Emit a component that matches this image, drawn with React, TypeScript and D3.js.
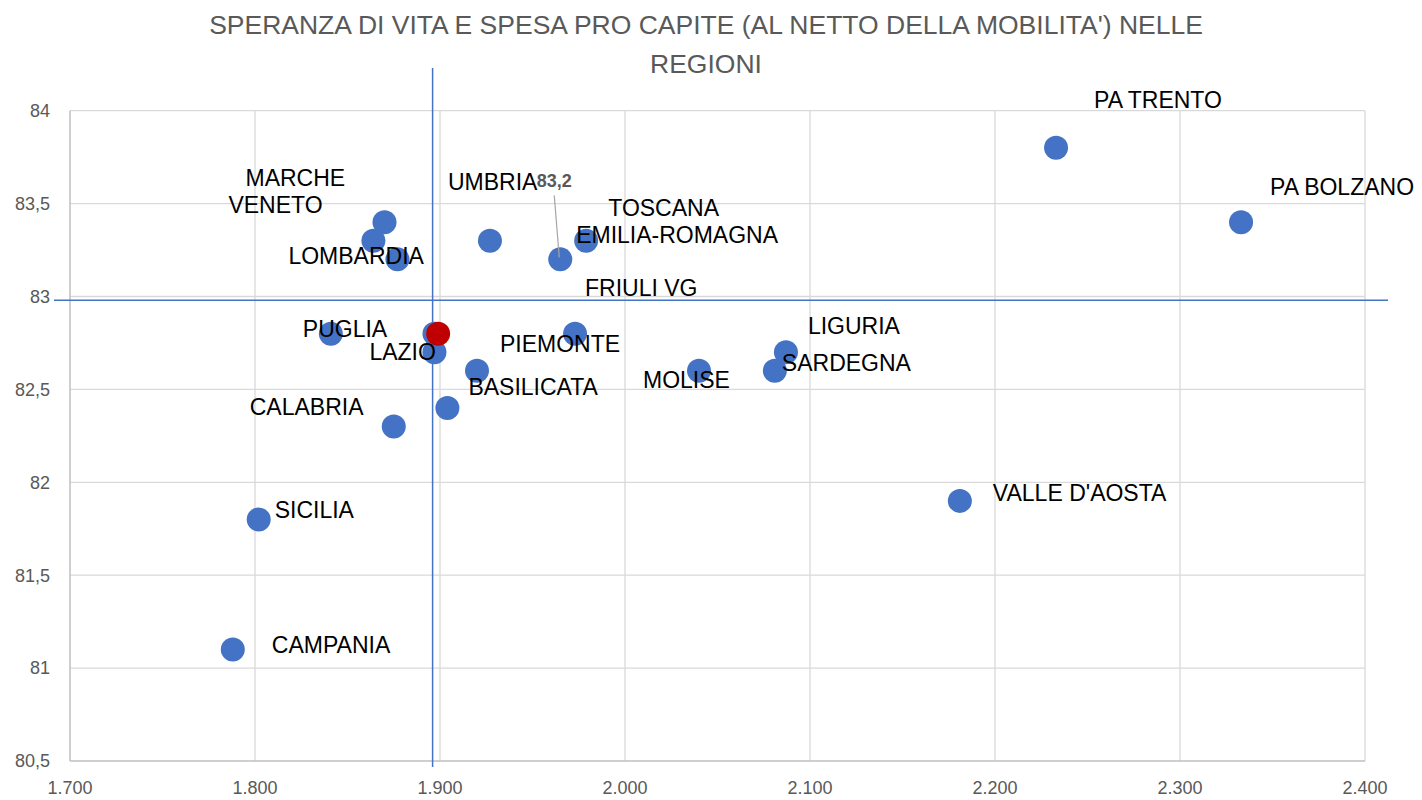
import React from 'react';
import * as d3 from 'd3';

// spesa pro capite (x), speranza di vita (y)
const regions = ['PA TRENTO', 'PA BOLZANO', 'MARCHE', 'VENETO', 'LOMBARDIA', 'UMBRIA', 'TOSCANA', 'EMILIA-ROMAGNA',
  'PUGLIA', 'ABRUZZO', 'LAZIO', 'FRIULI VG', 'PIEMONTE', 'BASILICATA', 'CALABRIA', 'MOLISE', 'SARDEGNA', 'LIGURIA',
  "VALLE D'AOSTA", 'SICILIA', 'CAMPANIA'];
const spesa = [2233, 2333, 1870, 1864, 1877, 1927, 1965, 1979,
  1841, 1897, 1897, 1973, 1920, 1904, 1875, 2040, 2081, 2087,
  2181, 1802, 1788];
const speranza = [83.8, 83.4, 83.4, 83.3, 83.2, 83.3, 83.2, 83.3,
  82.8, 82.8, 82.7, 82.8, 82.6, 82.4, 82.3, 82.6, 82.6, 82.7,
  81.9, 81.8, 81.1];
const hidden = ['ABRUZZO'];

const italia = { spesa: 1899, speranza: 82.8 };
const mediaSpesa = 1896;
const mediaSperanza = 82.98;

const xTicks = [1700, 1800, 1900, 2000, 2100, 2200, 2300, 2400];
const yTicks = [80.5, 81, 81.5, 82, 82.5, 83, 83.5, 84];

// label placement (pixels from the point), as moved by hand in the original
const labelOffsets: Record<string, [number, number]> = {
  'PA TRENTO': [38, -48], 'PA BOLZANO': [29, -35], 'MARCHE': [-139, -44], 'VENETO': [-145, -36],
  'LOMBARDIA': [-109, -3], 'UMBRIA': [-42, -59], 'TOSCANA': [48, -51], 'EMILIA-ROMAGNA': [-10, -6],
  'PUGLIA': [-28, -5], 'LAZIO': [-65, 0], 'FRIULI VG': [10, -46], 'PIEMONTE': [23, -27],
  'BASILICATA': [21, -21], 'CALABRIA': [-144, -20], 'MOLISE': [-56, 9], 'SARDEGNA': [7, -8],
  'LIGURIA': [22, -26], "VALLE D'AOSTA": [33, -8], 'SICILIA': [16, -10], 'CAMPANIA': [39, -5],
};

const fmtX = (v: number) => d3.format(',.0f')(v).replace(',', '.');
const fmtY = (v: number) => String(v).replace('.', ',');

export default function App() {
  const width = 1422;
  const height = 800;
  const margin = { top: 110.7, right: 57, bottom: 39, left: 70 };

  const x = d3.scaleLinear().domain([1700, 2400]).range([margin.left, width - margin.right]);
  const y = d3.scaleLinear().domain([80.5, 84]).range([height - margin.bottom, margin.top]);

  const grey = '#595959';
  const blue = '#4472C4';
  const font = "'Liberation Sans', Arial, sans-serif";

  const points = regions.map((r, i) => ({ name: r, sx: spesa[i], sy: speranza[i] }));
  const toscana = points.find(p => p.name === 'TOSCANA')!;

  return (
    <svg width={width} height={height} style={{ position: 'absolute', left: 0, top: 0, background: '#fff' }} fontFamily={font}>
      <text x={706} y={34} textAnchor="middle" fontSize={26.5} fill={grey}>
        SPERANZA DI VITA E SPESA PRO CAPITE (AL NETTO DELLA MOBILITA') NELLE
      </text>
      <text x={706} y={73} textAnchor="middle" fontSize={26.5} fill={grey}>REGIONI</text>

      {/* grid */}
      {xTicks.slice(1).map(t => (
        <line key={'gx' + t} x1={x(t)} x2={x(t)} y1={y(84)} y2={y(80.5)} stroke="#D9D9D9" strokeWidth={1.3} />
      ))}
      {yTicks.slice(1).map(t => (
        <line key={'gy' + t} x1={x(1700)} x2={x(2400)} y1={y(t)} y2={y(t)} stroke="#D9D9D9" strokeWidth={1.3} />
      ))}
      {/* axes */}
      <line x1={x(1700)} x2={x(1700)} y1={y(84)} y2={y(80.5)} stroke="#BFBFBF" strokeWidth={1.5} />
      <line x1={x(1700)} x2={x(2400)} y1={y(80.5)} y2={y(80.5)} stroke="#BFBFBF" strokeWidth={1.5} />

      {xTicks.map(t => (
        <text key={'tx' + t} x={x(t)} y={y(80.5) + 33} textAnchor="middle" fontSize={18} fill={grey}>{fmtX(t)}</text>
      ))}
      {yTicks.map(t => (
        <text key={'ty' + t} x={x(1700) - 20} y={y(t)} dy="0.35em" textAnchor="end" fontSize={18} fill={grey}>{fmtY(t)}</text>
      ))}

      {/* medie */}
      <line x1={x(mediaSpesa)} x2={x(mediaSpesa)} y1={68} y2={y(80.5) + 6} stroke={blue} strokeWidth={1.5} />
      <line x1={x(1700) - 16} x2={x(2400) + 23} y1={y(mediaSperanza)} y2={y(mediaSperanza)} stroke={blue} strokeWidth={1.5} />

      {points.map(p => (
        <circle key={p.name} cx={x(p.sx)} cy={y(p.sy)} r={12} fill={blue} />
      ))}
      <circle cx={x(italia.spesa)} cy={y(italia.speranza)} r={12} fill="#C00000" />

      {/* leader + value label */}
      <line x1={x(toscana.sx) - 6} y1={y(toscana.sy) - 64} x2={x(toscana.sx) - 1} y2={y(toscana.sy) - 2} stroke="#A6A6A6" strokeWidth={1.2} />
      <text x={x(toscana.sx) - 6} y={y(toscana.sy) - 79} dy="0.35em" textAnchor="middle" fontSize={18} fontWeight="bold" fill={grey}>
        {fmtY(toscana.sy)}
      </text>

      {points.filter(p => !hidden.includes(p.name)).map(p => {
        const [dx, dy] = labelOffsets[p.name];
        return (
          <text key={'l' + p.name} x={x(p.sx) + dx} y={y(p.sy) + dy} dy="0.35em" fontSize={23} fill="#000">
            {p.name}
          </text>
        );
      })}
    </svg>
  );
}
